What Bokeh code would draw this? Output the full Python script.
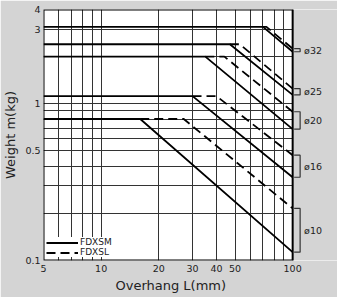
import math
from bokeh.plotting import figure
from bokeh.models import (Range1d, LinearScale, FixedTicker, CustomJSTickFormatter,
                          ColumnDataSource, Title)
from bokeh.core.properties import value
from bokeh.embed import file_html
from bokeh.resources import INLINE

# ---------------- data ----------------
diameters = ["ø32", "ø25", "ø20", "ø16", "ø10"]
max_weight = [3.1, 2.4, 2.0, 1.12, 0.8]          # kg, flat part
knee_fdxsm = [70, 47, 35, 30, 16]                # mm, FDXSM start of decline
end_fdxsm = [2.15, 1.14, 0.69, 0.34, 0.113]      # kg at 100 mm, FDXSM
knee_fdxsl = [73, 53, 44, 40, 27]                # mm, FDXSL start of decline
end_fdxsl = [2.25, 1.25, 0.89, 0.47, 0.215]      # kg at 100 mm, FDXSL

x_min, x_max = 5, 100
y_min, y_max = 0.1, 4
x_ticks = [5, 10, 20, 30, 40, 50, 100]
x_minor = [6, 7, 8, 9, 60, 70, 80, 90]
y_ticks = [0.1, 0.5, 1, 3, 4]
y_minor = [0.2, 0.3, 0.4, 0.6, 0.7, 0.8, 0.9, 2]

# ---------------- layout ----------------
FONT = "DejaVu Sans"
GREY = "#d4d4d4"
TXT = "#222222"
W, H = 337, 297
ML, MR, MT, MB = 42, 0, 9, 37
frame_w = W - ML - MR
frame_h = H - MT - MB
side_px = 45
plot_px = frame_w - side_px
x_right = x_min * 10 ** (math.log10(x_max / x_min) * frame_w / plot_px)

p = figure(width=W, height=H, x_axis_type="log", y_axis_type="log",
           x_range=Range1d(x_min, x_right), y_range=Range1d(y_min, y_max),
           output_backend="svg", toolbar_location=None,
           min_border_left=ML, min_border_right=MR,
           min_border_top=MT, min_border_bottom=MB,
           background_fill_color="white", border_fill_color=GREY,
           outline_line_color=None)
p.extra_x_ranges = {"px": Range1d(0, frame_w)}
p.extra_x_scales = {"px": LinearScale()}

# axes
p.xaxis.ticker = FixedTicker(ticks=x_ticks, minor_ticks=x_minor)
p.yaxis.ticker = FixedTicker(ticks=y_ticks, minor_ticks=y_minor)
p.xaxis.formatter = CustomJSTickFormatter(code="return String(tick);")
p.yaxis.formatter = CustomJSTickFormatter(code="return String(tick);")
for ax in (p.xaxis, p.yaxis):
    ax.axis_line_color = None
    ax.major_tick_line_color = None
    ax.minor_tick_line_color = None
    ax.major_tick_out = 0
    ax.major_tick_in = 0
    ax.minor_tick_out = 0
    ax.minor_tick_in = 0
    ax.major_label_text_font = FONT
    ax.major_label_text_font_size = "9.5px"
    ax.major_label_text_color = TXT
p.xaxis.major_label_standoff = 4
p.yaxis.major_label_standoff = 3
p.yaxis.axis_label = "Weight m(kg)"
p.yaxis.axis_label_text_font = FONT
p.yaxis.axis_label_text_font_style = "normal"
p.yaxis.axis_label_text_font_size = "13px"
p.yaxis.axis_label_text_color = TXT
p.yaxis.axis_label_standoff = 4

# x axis title, centred under the 5-100 mm area
p.add_layout(Title(text="Overhang L(mm)", align="left", offset=72, standoff=2,
                   text_font=FONT, text_font_size="13px", text_font_style="normal",
                   text_color=TXT), "below")

for g in (p.xgrid, p.ygrid):
    g.grid_line_color = "#333333"
    g.minor_grid_line_color = "#333333"
    g.grid_line_width = 1
    g.minor_grid_line_width = 1

# grey side panel (covers horizontal grid beyond 100 mm)
p.quad(left=plot_px, right=frame_w, bottom=y_min, top=y_max, x_range_name="px",
       fill_color=GREY, line_color=None)

# curves
src_m = ColumnDataSource(dict(
    xs=[[x_min, k, x_max] for k in knee_fdxsm],
    ys=[[w, w, e] for w, e in zip(max_weight, end_fdxsm)]))
src_l = ColumnDataSource(dict(
    xs=[[km, kl, x_max] for km, kl in zip(knee_fdxsm, knee_fdxsl)],
    ys=[[w, w, e] for w, e in zip(max_weight, end_fdxsl)]))
p.multi_line("xs", "ys", source=src_m, line_color="black", line_width=1.8,
             legend_label="FDXSM")
p.multi_line("xs", "ys", source=src_l, line_color="black", line_width=1.8,
             line_dash="9 5", legend_label="FDXSL")

# plot-area border
p.quad(left=x_min, right=x_max, bottom=y_min, top=y_max, fill_color=None,
       line_color="black", line_width=2)

# brackets and diameter labels on the right
src_b = ColumnDataSource(dict(
    xs=[[plot_px + 1.5, plot_px + 7.5, plot_px + 7.5, plot_px + 1.5] for _ in diameters],
    ys=[[em, em, el, el] for em, el in zip(end_fdxsm, end_fdxsl)]))
p.multi_line("xs", "ys", source=src_b, x_range_name="px", line_color="#333333",
             line_width=1.2)
src_t = ColumnDataSource(dict(
    x=[plot_px + 11.5 for _ in diameters],
    y=[math.sqrt(em * el) for em, el in zip(end_fdxsm, end_fdxsl)],
    text=diameters))
p.text("x", "y", text="text", source=src_t, x_range_name="px",
       text_font=value(FONT), text_font_size=value("9.5px"),
       text_baseline="middle", text_align="left", text_color=TXT)

# legend
lg = p.legend[0]
lg.location = (3, 3)
lg.padding = 2
lg.margin = 0
lg.spacing = 0
lg.glyph_width = 32
lg.glyph_height = 9
lg.label_height = 9
lg.label_standoff = 2
lg.label_text_font = FONT
lg.label_text_font_size = "9px"
lg.label_text_color = TXT
lg.border_line_color = None
lg.background_fill_color = "white"
lg.background_fill_alpha = 1

open("out.html", "w").write(file_html(p, INLINE))
